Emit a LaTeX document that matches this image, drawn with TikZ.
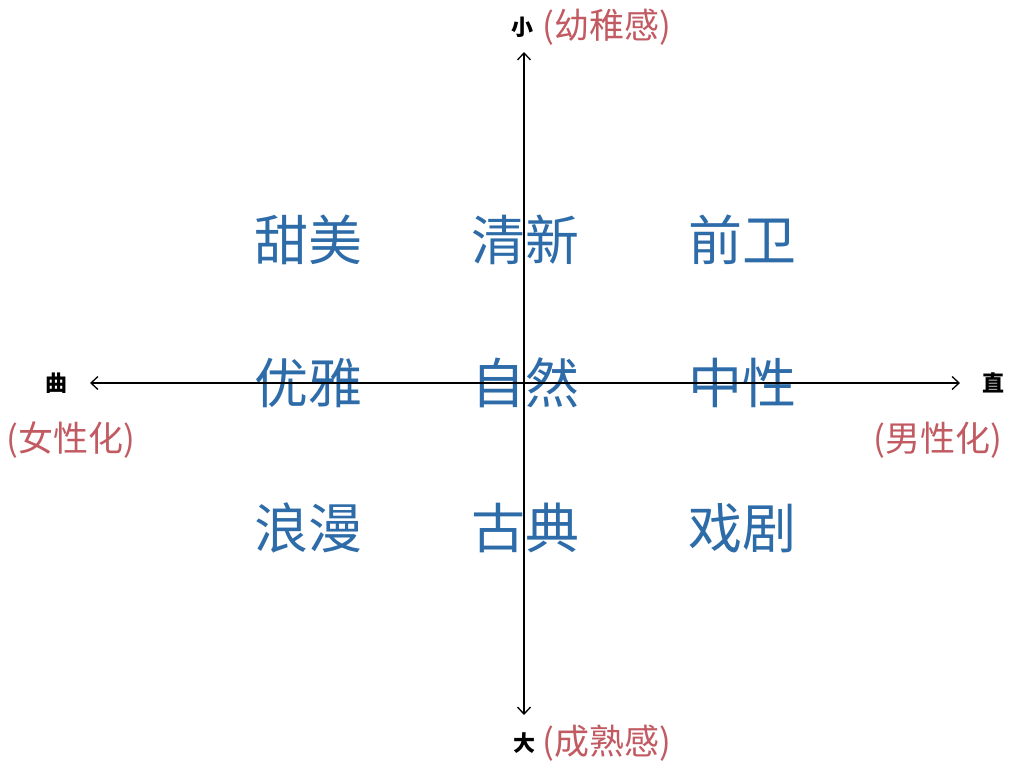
\documentclass[tikz,border=0pt]{standalone}
\usepackage{fontspec}
\newfontfamily\cjk{Noto Sans CJK SC}
\usetikzlibrary{arrows.meta}
\definecolor{styleblue}{HTML}{2D6CA8}
\definecolor{notered}{HTML}{C25A62}
\tikzset{>={Straight Barb[length=7pt,width=13pt,line width=1.3pt]}}
\tikzset{axis/.style={<->,line width=1.3pt,black}}
\tikzset{stylelabel/.style={font=\cjk\fontsize{54}{54}\selectfont,text=styleblue,inner sep=0pt}}
\tikzset{polelabel/.style={font=\cjk\bfseries\fontsize{22}{22}\selectfont,text=black,inner sep=0pt}}
\tikzset{notelabel/.style={font=\cjk\fontsize{35}{35}\selectfont,text=notered,inner sep=0pt}}

\begin{document}
\begin{tikzpicture}[x=1pt,y=-1pt]
  \useasboundingbox[fill=white] (0,0) rectangle (1024,768);

  % Style words
  \node[stylelabel] (tianmei) at (308,240) {甜美};
  \node[stylelabel] (qingxin) at (525,240) {清新};
  \node[stylelabel] (qianwei) at (742,240) {前卫};
  \node[stylelabel] (youya) at (308,383) {优雅};
  \node[stylelabel] (ziran) at (525,383) {自然};
  \node[stylelabel] (zhongxing) at (742,383) {中性};
  \node[stylelabel] (langman) at (308,528) {浪漫};
  \node[stylelabel] (gudian) at (525,528) {古典};
  \node[stylelabel] (xiju) at (742,528) {戏剧};

  % Axis ends
  \coordinate (ytop) at (524,52);
  \coordinate (ybot) at (524,715);
  \coordinate (xleft) at (90,383);
  \coordinate (xright) at (960,383);

  % Axes
  \draw[axis] (ybot) -- (ytop);
  \draw[axis] (xleft) -- (xright);

  % Labels
  \node[polelabel] (small) at (522,27) {小};
  \node[notelabel,anchor=west] (childlike) at (542,27) {(幼稚感)};
  \node[polelabel] (big) at (524,743) {大};
  \node[notelabel,anchor=west] (mature) at (542,743) {(成熟感)};
  \node[polelabel] (curve) at (56,383) {曲};
  \node[notelabel] (female) at (71,440) {(女性化)};
  \node[polelabel] (straight) at (993,383) {直};
  \node[notelabel] (male) at (938,440) {(男性化)};
\end{tikzpicture}
\end{document}
